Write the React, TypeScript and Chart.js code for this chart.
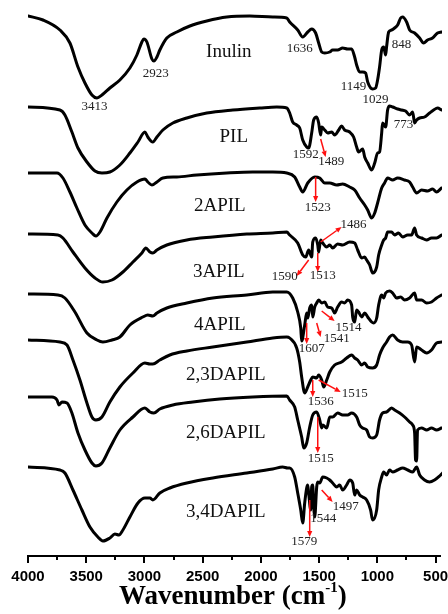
import React, { useEffect, useRef } from "react";
import { Chart, registerables } from "chart.js";

Chart.register(...registerables);

type P = [number, number];

// [wavenumber (cm-1), transmittance (a.u., stacked)]
const INULIN: P[] = [
  [4000, 540], [3871, 536], [3726, 526], [3640, 513], [3571, 489], [3511, 473], [3451, 461], [3408, 458],
  [3365, 461], [3297, 468], [3211, 476], [3125, 488], [3065, 501], [3022, 514], [3005, 517], [2979, 514],
  [2936, 497], [2919, 495], [2893, 499], [2868, 506], [2808, 518], [2722, 524], [2610, 530], [2465, 535],
  [2293, 539], [2096, 540], [1898, 539], [1778, 538], [1753, 534], [1684, 526], [1641, 519], [1598, 524],
  [1564, 527], [1530, 523], [1504, 513], [1478, 504], [1452, 503], [1409, 504], [1384, 506], [1341, 506],
  [1298, 508], [1255, 507], [1221, 507], [1195, 499], [1178, 491], [1152, 484], [1126, 484], [1101, 483],
  [1083, 474], [1041, 467], [1015, 468], [998, 476], [981, 489], [963, 506], [946, 509], [929, 501],
  [921, 509], [903, 524], [878, 526], [852, 528], [826, 531], [800, 538], [783, 539], [749, 534],
  [723, 526], [680, 523], [637, 518], [603, 513], [569, 516], [526, 518], [483, 523], [449, 524],
];

const PIL: P[] = [
  [4000, 449], [3726, 446], [3683, 441], [3623, 424], [3571, 408], [3494, 394], [3425, 385], [3365, 383],
  [3297, 384], [3211, 391], [3125, 403], [3056, 414], [2996, 424], [2971, 419], [2928, 414], [2893, 419],
  [2842, 426], [2756, 433], [2636, 438], [2465, 443], [2241, 446], [2010, 448], [1864, 449], [1778, 448],
  [1753, 443], [1727, 434], [1693, 431], [1667, 428], [1641, 416], [1607, 409], [1590, 408], [1564, 423],
  [1547, 436], [1521, 439], [1504, 433], [1487, 421], [1478, 429], [1452, 426], [1427, 423], [1392, 424],
  [1367, 421], [1332, 426], [1307, 430], [1281, 426], [1238, 424], [1204, 419], [1178, 409], [1161, 404],
  [1126, 407], [1109, 399], [1083, 393], [1049, 386], [1023, 393], [998, 403], [981, 404], [963, 423],
  [955, 433], [929, 429], [912, 446], [895, 450], [869, 449], [826, 447], [792, 446], [758, 445],
  [723, 441], [697, 444], [680, 433], [663, 436], [637, 438], [595, 439], [552, 443], [517, 446],
  [483, 448], [449, 446],
];

const APIL2: P[] = [
  [4000, 383], [3751, 383], [3700, 378], [3640, 364], [3580, 348], [3511, 331], [3451, 323], [3417, 320],
  [3382, 324], [3322, 338], [3237, 354], [3151, 366], [3065, 374], [2996, 377], [2971, 374], [2936, 371],
  [2893, 374], [2842, 378], [2722, 379], [2550, 381], [2293, 383], [2070, 384], [1898, 384], [1778, 383],
  [1710, 379], [1667, 369], [1641, 364], [1598, 373], [1538, 379], [1495, 378], [1452, 373], [1409, 373],
  [1349, 371], [1298, 372], [1238, 369], [1195, 366], [1152, 358], [1109, 351], [1083, 346], [1049, 338],
  [1023, 343], [998, 353], [963, 368], [938, 373], [912, 378], [869, 376], [826, 378], [766, 376],
  [723, 374], [697, 369], [663, 363], [620, 366], [569, 365], [526, 367], [492, 364], [449, 368],
];

const APIL3: P[] = [
  [4000, 322], [3743, 321], [3700, 318], [3614, 304], [3511, 288], [3425, 278], [3357, 274], [3279, 276],
  [3185, 284], [3099, 294], [3022, 303], [2988, 308], [2953, 304], [2928, 303], [2893, 306], [2808, 311],
  [2636, 316], [2413, 319], [2121, 322], [1898, 323], [1778, 324], [1753, 321], [1684, 313], [1641, 301],
  [1615, 299], [1590, 306], [1564, 299], [1555, 314], [1530, 318], [1512, 311], [1504, 304], [1487, 316],
  [1469, 313], [1435, 309], [1409, 311], [1384, 308], [1341, 312], [1298, 311], [1238, 314], [1195, 313],
  [1169, 306], [1135, 298], [1109, 299], [1092, 296], [1066, 291], [1041, 283], [1006, 289], [989, 301],
  [963, 311], [946, 316], [929, 318], [912, 324], [878, 324], [852, 321], [818, 323], [783, 319],
  [740, 321], [706, 321], [680, 328], [663, 321], [620, 318], [577, 316], [535, 318], [492, 318], [449, 321],
];

const APIL4: P[] = [
  [4000, 262], [3743, 261], [3683, 258], [3597, 244], [3494, 223], [3408, 216], [3357, 214], [3279, 216],
  [3211, 219], [3125, 231], [3014, 239], [2971, 241], [2928, 240], [2893, 243], [2808, 248], [2636, 253],
  [2413, 258], [2121, 261], [1898, 264], [1778, 264], [1727, 258], [1684, 244], [1658, 228], [1650, 215],
  [1624, 231], [1607, 243], [1598, 238], [1581, 248], [1564, 251], [1555, 239], [1538, 249], [1521, 253],
  [1504, 256], [1478, 253], [1452, 254], [1427, 249], [1392, 248], [1367, 243], [1341, 249], [1307, 254],
  [1281, 253], [1255, 256], [1221, 251], [1212, 239], [1195, 234], [1178, 246], [1161, 244], [1135, 239],
  [1109, 243], [1083, 239], [1049, 234], [1032, 233], [1006, 238], [989, 251], [963, 261], [946, 258],
  [929, 263], [895, 265], [869, 263], [835, 258], [800, 259], [766, 256], [723, 258], [680, 263],
  [663, 256], [620, 256], [577, 253], [535, 254], [492, 258], [449, 261],
];

const DAPIL23: P[] = [
  [4000, 216], [3726, 214], [3665, 211], [3614, 196], [3554, 176], [3494, 153], [3451, 139], [3417, 136],
  [3365, 139], [3297, 154], [3211, 169], [3099, 183], [2996, 193], [2953, 192], [2928, 192], [2868, 196],
  [2782, 201], [2636, 205], [2413, 209], [2121, 214], [1898, 218], [1778, 219], [1753, 218], [1693, 208],
  [1667, 194], [1650, 179], [1624, 163], [1598, 169], [1572, 176], [1555, 179], [1521, 178], [1504, 181],
  [1478, 176], [1461, 169], [1435, 176], [1409, 184], [1367, 191], [1307, 194], [1264, 198], [1221, 201],
  [1195, 198], [1169, 196], [1135, 191], [1109, 193], [1083, 189], [1041, 188], [1006, 191], [981, 201],
  [955, 208], [921, 214], [895, 219], [869, 221], [826, 216], [783, 214], [740, 214], [706, 211],
  [680, 194], [663, 209], [620, 206], [577, 203], [535, 206], [492, 213], [449, 214],
];

const DAPIL26: P[] = [
  [4000, 159], [3794, 159], [3751, 156], [3734, 151], [3708, 154], [3665, 153], [3623, 143], [3571, 123],
  [3511, 106], [3451, 93], [3417, 90], [3365, 93], [3297, 108], [3211, 126], [3099, 139], [2996, 148],
  [2953, 144], [2919, 143], [2868, 147], [2756, 151], [2585, 154], [2353, 157], [2070, 159], [1778, 160],
  [1753, 156], [1710, 149], [1684, 136], [1650, 119], [1632, 108], [1607, 113], [1581, 129], [1555, 141],
  [1521, 144], [1495, 136], [1478, 128], [1469, 131], [1435, 128], [1409, 139], [1384, 139], [1341, 143],
  [1298, 141], [1255, 141], [1221, 143], [1178, 139], [1152, 131], [1126, 128], [1092, 126], [1066, 119],
  [1041, 118], [1006, 121], [981, 136], [955, 143], [921, 144], [878, 148], [852, 146], [809, 143],
  [766, 139], [723, 134], [697, 131], [680, 123], [672, 96], [663, 95], [655, 126], [620, 128],
  [577, 126], [535, 128], [492, 126], [449, 128],
];

const DAPIL34: P[] = [
  [4000, 89], [3726, 86], [3683, 83], [3614, 66], [3537, 46], [3468, 29], [3400, 19], [3357, 15],
  [3297, 18], [3254, 22], [3219, 21], [3185, 26], [3125, 39], [3056, 53], [2996, 58], [2953, 58],
  [2928, 56], [2868, 63], [2782, 68], [2636, 73], [2413, 78], [2121, 83], [1898, 87], [1813, 89],
  [1770, 88], [1753, 88], [1710, 79], [1684, 63], [1658, 46], [1641, 33], [1624, 53], [1607, 68],
  [1598, 71], [1590, 63], [1572, 46], [1564, 69], [1555, 71], [1547, 49], [1538, 39], [1521, 69],
  [1512, 74], [1495, 73], [1469, 79], [1435, 78], [1409, 76], [1384, 73], [1349, 69], [1324, 71],
  [1298, 66], [1264, 71], [1238, 76], [1212, 73], [1195, 61], [1178, 66], [1152, 61], [1126, 59],
  [1092, 56], [1058, 46], [1041, 36], [1006, 46], [989, 66], [963, 79], [946, 84], [921, 81],
  [895, 86], [869, 84], [826, 86], [783, 88], [740, 86], [697, 84], [663, 89], [637, 81],
  [595, 76], [552, 74], [509, 76], [466, 80], [440, 83],
];

const SERIES: P[][] = [INULIN, PIL, APIL2, APIL3, APIL4, DAPIL23, DAPIL26, DAPIL34];
const SAMPLE_NAMES = ["Inulin", "PIL", "2APIL", "3APIL", "4APIL", "2,3DAPIL", "2,6DAPIL", "3,4DAPIL"];
const SAMPLE_LABEL_AT: P[] = [
  [2276, 504], [2233, 419], [2353, 350], [2362, 284], [2353, 231], [2302, 181], [2302, 123], [2302, 44],
];

const PEAK_TEXT = [
  "3413", "2923", "1636", "1149", "1029", "848", "1592", "1489", "773", "1523", "1486", "1590",
  "1513", "1514", "1541", "1607", "1536", "1515", "1515", "1497", "1544", "1579",
];
const PEAK_TEXT_AT: P[] = [
  [3430, 449], [2902, 482], [1667, 507], [1204, 469], [1015, 456], [792, 511], [1615, 401], [1397, 394],
  [775, 431], [1512, 348], [1204, 331], [1795, 279], [1469, 280], [1247, 228], [1349, 217], [1564, 207],
  [1487, 154], [1195, 162], [1487, 97], [1272, 49], [1465, 37], [1628, 14],
];

// red arrows: [from, to] in data units
const ARROW_FROM: P[] = [
  [1487, 417], [1530, 379], [1487, 314], [1590, 296], [1512, 303], [1607, 233], [1521, 233],
  [1478, 245], [1555, 176], [1504, 176], [1512, 139], [1581, 56], [1478, 66],
];
const ARROW_TO: P[] = [
  [1444, 399], [1530, 354], [1307, 329], [1693, 280], [1512, 284], [1607, 212], [1487, 219],
  [1367, 235], [1555, 159], [1315, 164], [1512, 103], [1581, 19], [1384, 54],
];

const X_MAJOR = [4000, 3500, 3000, 2500, 2000, 1500, 1000, 500];
const X_MINOR = [3750, 3250, 2750, 2250, 1750, 1250, 750];

const decor = {
  id: "decor",
  afterDraw(chart: any) {
    const { ctx, chartArea } = chart;
    const xs = chart.scales.x;
    const ys = chart.scales.y;
    const px = (v: number) => xs.getPixelForValue(v);
    const py = (v: number) => ys.getPixelForValue(v);
    ctx.save();

    // bottom axis
    const y0 = Math.round(py(0));
    ctx.strokeStyle = "#000";
    ctx.lineWidth = 2;
    ctx.beginPath();
    ctx.moveTo(px(4000) - 1, y0);
    ctx.lineTo(chartArea.right - 1, y0);
    ctx.stroke();
    ctx.beginPath();
    X_MAJOR.forEach((v) => {
      const x = Math.round(px(v));
      ctx.moveTo(x, y0);
      ctx.lineTo(x, y0 + 7);
    });
    X_MINOR.forEach((v) => {
      const x = Math.round(px(v));
      ctx.moveTo(x, y0);
      ctx.lineTo(x, y0 + 4);
    });
    ctx.stroke();

    ctx.fillStyle = "#000";
    ctx.font = "bold 15px 'Liberation Sans', Arial, sans-serif";
    ctx.textAlign = "center";
    ctx.textBaseline = "alphabetic";
    X_MAJOR.forEach((v) => ctx.fillText(String(v), px(v), y0 + 25));

    // axis title with superscript
    const mainFont = "bold 27px 'Liberation Serif', 'Times New Roman', serif";
    const supFont = "bold 15px 'Liberation Serif', 'Times New Roman', serif";
    const t1 = "Wavenumber (cm";
    const t2 = "-1";
    const t3 = ")";
    ctx.font = mainFont;
    const w1 = ctx.measureText(t1).width;
    const w3 = ctx.measureText(t3).width;
    ctx.font = supFont;
    const w2 = ctx.measureText(t2).width;
    const total = w1 + w2 + w3;
    const cx = (px(4000) + px(500)) / 2 + 1;
    let x = cx - total / 2;
    const base = y0 + 48;
    ctx.textAlign = "left";
    ctx.font = mainFont;
    ctx.fillText(t1, x, base);
    x += w1;
    ctx.font = supFont;
    ctx.fillText(t2, x, base - 12);
    x += w2;
    ctx.font = mainFont;
    ctx.fillText(t3, x, base);

    // sample names
    ctx.textAlign = "center";
    ctx.textBaseline = "middle";
    ctx.fillStyle = "#111";
    ctx.font = "19px 'Liberation Serif', 'Times New Roman', serif";
    SAMPLE_NAMES.forEach((n, i) => {
      const [wx, wy] = SAMPLE_LABEL_AT[i];
      ctx.fillText(n, px(wx), py(wy));
    });

    // red arrows
    ctx.strokeStyle = "#ff1010";
    ctx.fillStyle = "#ff1010";
    ctx.lineWidth = 1.5;
    ARROW_FROM.forEach((f, i) => {
      const t = ARROW_TO[i];
      const x1 = px(f[0]), y1 = py(f[1]);
      const x2 = px(t[0]), y2 = py(t[1]);
      const ang = Math.atan2(y2 - y1, x2 - x1);
      const hl = 6, hw = 2.6;
      const bx = x2 - hl * Math.cos(ang), by = y2 - hl * Math.sin(ang);
      ctx.beginPath();
      ctx.moveTo(x1, y1);
      ctx.lineTo(bx, by);
      ctx.stroke();
      ctx.beginPath();
      ctx.moveTo(x2, y2);
      ctx.lineTo(bx + hw * Math.sin(ang), by - hw * Math.cos(ang));
      ctx.lineTo(bx - hw * Math.sin(ang), by + hw * Math.cos(ang));
      ctx.closePath();
      ctx.fill();
    });

    // peak labels
    ctx.fillStyle = "#222";
    ctx.font = "13px 'Liberation Serif', 'Times New Roman', serif";
    PEAK_TEXT.forEach((s, i) => {
      const [wx, wy] = PEAK_TEXT_AT[i];
      ctx.fillText(s, px(wx), py(wy));
    });

    ctx.restore();
  },
};

export default function App() {
  const ref = useRef<HTMLCanvasElement>(null);
  useEffect(() => {
    document.body.style.margin = "0";
    const chart = new Chart(ref.current as HTMLCanvasElement, {
      type: "line",
      data: {
        datasets: SERIES.map((s, i) => ({
          label: SAMPLE_NAMES[i],
          data: s.map(([x, y]) => ({ x, y })),
          borderColor: "#000",
          borderWidth: 3,
          pointRadius: 0,
          fill: false,
          cubicInterpolationMode: "monotone" as const,
          borderJoinStyle: "round" as const,
          borderCapStyle: "round" as const,
        })),
      },
      options: {
        responsive: false,
        animation: false,
        devicePixelRatio: 1,
        events: [],
        layout: { padding: { left: 28, right: 6, top: 6, bottom: 58 } },
        scales: {
          x: { type: "linear", reverse: true, min: 445, max: 4000, display: false },
          y: { type: "linear", min: 0, max: 550, display: false },
        },
        plugins: { legend: { display: false }, tooltip: { enabled: false } },
      },
      plugins: [decor],
    } as any);
    return () => chart.destroy();
  }, []);
  return (
    <div style={{ position: "absolute", left: 0, top: 0, width: 448, height: 614, background: "#fff" }}>
      <canvas ref={ref} width={448} height={614} style={{ display: "block" }} />
    </div>
  );
}
